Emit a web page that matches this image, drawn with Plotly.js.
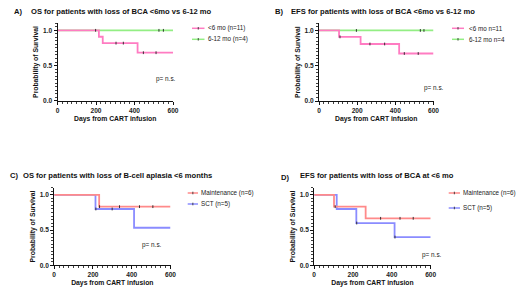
<!DOCTYPE html>
<html><head><meta charset="utf-8">
<script src="https://cdn.plot.ly/plotly-3.0.1.min.js"></script>
<style>html,body{margin:0;padding:0;background:#fff}#chart{width:520px;height:293px}</style>
</head><body><div id="chart"></div>
<script>
// ---------- data ----------
const panelTitles = [
  "OS for patients with loss of BCA <6mo vs 6-12 mo",
  "EFS for patients with loss of BCA <6mo vs 6-12 mo",
  "OS for patients with loss of B-cell aplasia <6 months",
  "EFS for patients with loss of BCA at <6 mo"
];
const panelLetters = ["A)", "B)", "C)", "D)"];
const xTickVals = [0, 200, 400, 600];
const yTickVals = [0, 0.5, 1.0];
const yTickText = ["0.0", "0.5", "1.0"];
const xAxisTitle = "Days from CART infusion";
const yAxisTitle = "Probability of Survival";
const pText = "p= n.s.";

// Panel A
const aNames = ["<6 mo (n=11)", "6-12 mo (n=4)"];
const aLt6Days = [0, 215, 235, 416, 600];
const aLt6Surv = [1, 0.909, 0.818, 0.682, 0.682];
const aLt6CensDays = [198, 304, 342, 446, 512];
const aLt6CensSurv = [1, 0.818, 0.818, 0.682, 0.682];
const a612Days = [0, 600];
const a612Surv = [1, 1];
const a612CensDays = [527, 550];
const a612CensSurv = [1, 1];

// Panel B
const bNames = ["<6 mo n=11", "6-12 mo n=4"];
const bLt6Days = [0, 105, 218, 420, 600];
const bLt6Surv = [1, 0.909, 0.808, 0.673, 0.673];
const bLt6CensDays = [110, 267, 344, 447, 520];
const bLt6CensSurv = [0.909, 0.808, 0.808, 0.673, 0.673];
const b612Days = [0, 600];
const b612Surv = [1, 1];
const b612CensDays = [196, 531, 550];
const b612CensSurv = [1, 1, 1];

// Panel C
const cNames = ["Maintenance (n=6)", "SCT (n=5)"];
const cMaintDays = [0, 232, 600];
const cMaintSurv = [1, 0.833, 0.833];
const cMaintCensDays = [234, 337, 440, 509];
const cMaintCensSurv = [0.833, 0.833, 0.833, 0.833];
const cSctDays = [0, 213, 412, 600];
const cSctSurv = [1, 0.8, 0.533, 0.533];
const cSctCensDays = [215, 299];
const cSctCensSurv = [0.8, 0.8];

// Panel D
const dNames = ["Maintenance (n=6)", "SCT (n=5)"];
const dMaintDays = [0, 102, 265, 600];
const dMaintSurv = [1, 0.833, 0.667, 0.667];
const dMaintCensDays = [108, 342, 442, 510];
const dMaintCensSurv = [0.833, 0.667, 0.667, 0.667];
const dSctDays = [0, 116, 217, 414, 600];
const dSctSurv = [1, 0.8, 0.6, 0.4, 0.4];
const dSctCensDays = [219, 416];
const dSctCensSurv = [0.6, 0.4];

// ---------- styling ----------
const W = 520, H = 293;
const FONT = "Arial, 'Liberation Sans', sans-serif";
const PINK = "#ff7cc2", GREEN = "#93ee84", RED = "#ff8a8a", BLUE = "#8a8cff";
const px = v => v / W;
const py = v => 1 - v / H;

function stepTrace(xs, ys, color, ax) {
  return {x: xs, y: ys, xaxis: 'x' + ax, yaxis: 'y' + ax, type: 'scatter', mode: 'lines',
    line: {shape: 'hv', color: color, width: 1.8}, showlegend: false, hoverinfo: 'skip'};
}
function censTrace(xs, ys, ax) {
  return {x: xs, y: ys, xaxis: 'x' + ax, yaxis: 'y' + ax, type: 'scatter', mode: 'markers',
    marker: {symbol: 'line-ns', size: 2, line: {color: '#222', width: 0.9}}, showlegend: false, hoverinfo: 'skip'};
}

const data = [
  stepTrace(a612Days, a612Surv, GREEN, ''), stepTrace(aLt6Days, aLt6Surv, PINK, ''),
  censTrace(a612CensDays, a612CensSurv, ''), censTrace(aLt6CensDays, aLt6CensSurv, ''),
  stepTrace(b612Days, b612Surv, GREEN, '2'), stepTrace(bLt6Days, bLt6Surv, PINK, '2'),
  censTrace(b612CensDays, b612CensSurv, '2'), censTrace(bLt6CensDays, bLt6CensSurv, '2'),
  stepTrace(cSctDays, cSctSurv, BLUE, '3'), stepTrace(cMaintDays, cMaintSurv, RED, '3'),
  censTrace(cSctCensDays, cSctCensSurv, '3'), censTrace(cMaintCensDays, cMaintCensSurv, '3'),
  stepTrace(dSctDays, dSctSurv, BLUE, '4'), stepTrace(dMaintDays, dMaintSurv, RED, '4'),
  censTrace(dSctCensDays, dSctCensSurv, '4'), censTrace(dMaintCensDays, dMaintCensSurv, '4')
];

// pixel geometry of each panel: [x0, x1, yZero, yTop(1.1)]
const geo = [
  [57.5, 173.0, 100.7, 23.3],
  [319.0, 433.5, 101.0, 23.4],
  [54.2, 170.5, 265.2, 187.9],
  [314.2, 430.7, 265.2, 187.9]
];

function xAxis(i) {
  const g = geo[i];
  return {domain: [px(g[0]), px(g[1])], range: [0, 600], anchor: 'y' + (i ? i + 1 : ''),
    showgrid: false, zeroline: false, showline: true, linecolor: '#111', linewidth: 1,
    ticks: 'outside', ticklen: 3, tickwidth: 1, tickcolor: '#111',
    tickvals: xTickVals, ticktext: xTickVals.map(String),
    tickfont: {family: FONT, size: 6.6, color: '#222', weight: 'bold'},
    minor: {dtick: 25, ticks: 'outside', ticklen: 1.8, tickwidth: 0.8, tickcolor: '#111', showgrid: false},
    title: {text: xAxisTitle, font: {family: FONT, size: 6.8, color: '#111', weight: 'bold'}, standoff: 3},
    fixedrange: true};
}
function yAxis(i) {
  const g = geo[i];
  return {domain: [py(g[2]), py(g[3])], range: [0, 1.1], anchor: 'x' + (i ? i + 1 : ''),
    showgrid: false, zeroline: false, showline: true, linecolor: '#111', linewidth: 1,
    ticks: 'outside', ticklen: 3, tickwidth: 1, tickcolor: '#111',
    tickvals: yTickVals, ticktext: yTickText,
    tickfont: {family: FONT, size: 6.6, color: '#222', weight: 'bold'},
    minor: {dtick: 0.05, ticks: 'outside', ticklen: 1.8, tickwidth: 0.8, tickcolor: '#111', showgrid: false},
    title: {text: yAxisTitle, font: {family: FONT, size: 6.8, color: '#111', weight: 'bold'}, standoff: 3},
    fixedrange: true};
}

// legends / titles placement (pixels)
const legendPos = [
  {x0: 192, x1: 204.5, tx: 206, ys: [28.3, 39.3], names: aNames, colors: [PINK, GREEN]},
  {x0: 452, x1: 464, tx: 466.7, ys: [28.3, 39.3], names: bNames, colors: [PINK, GREEN]},
  {x0: 187.7, x1: 198, tx: 199.3, ys: [193, 204], names: cNames, colors: [RED, BLUE]},
  {x0: 448.7, x1: 460, tx: 461.3, ys: [193, 208], names: dNames, colors: [RED, BLUE]}
];
const titlePos = [
  {lx: 12, tx: 29.3, y: 11.3, ly: 11.3},
  {lx: 272.7, tx: 289.3, y: 11.3, ly: 11.3},
  {lx: 8, tx: 20.7, y: 175.7, ly: 175.7},
  {lx: 278.7, tx: 298.3, y: 175.3, ly: 177.3}
];
const pPos = [[166, 79.3], [433.8, 88.3], [152.3, 245.3], [432, 254.7]];

const annotations = [], shapes = [];
for (let i = 0; i < 4; i++) {
  const t = titlePos[i];
  annotations.push({xref: 'paper', yref: 'paper', x: px(t.lx), y: py(t.ly), xanchor: 'left', yanchor: 'middle',
    text: panelLetters[i], showarrow: false, font: {family: FONT, size: 7.6, color: '#111', weight: 'bold'}});
  annotations.push({xref: 'paper', yref: 'paper', x: px(t.tx), y: py(t.y), xanchor: 'left', yanchor: 'middle',
    text: panelTitles[i], showarrow: false, font: {family: FONT, size: 7.6, color: '#111', weight: 'bold'}});
  annotations.push({xref: 'paper', yref: 'paper', x: px(pPos[i][0]), y: py(pPos[i][1]), xanchor: 'center', yanchor: 'middle',
    text: pText, showarrow: false, font: {family: FONT, size: 6.4, color: '#222'}});
  const L = legendPos[i];
  for (let k = 0; k < 2; k++) {
    const yy = py(L.ys[k]);
    shapes.push({type: 'line', xref: 'paper', yref: 'paper', x0: px(L.x0), x1: px(L.x1), y0: yy, y1: yy,
      line: {color: L.colors[k], width: 1.5}});
    const xm = (L.x0 + L.x1) / 2;
    shapes.push({type: 'line', xref: 'paper', yref: 'paper', x0: px(xm), x1: px(xm), y0: yy - 1.3 / H, y1: yy + 1.3 / H,
      line: {color: '#222', width: 0.8}});
    annotations.push({xref: 'paper', yref: 'paper', x: px(L.tx), y: yy, xanchor: 'left', yanchor: 'middle',
      text: L.names[k], showarrow: false, font: {family: FONT, size: 6.3, color: '#222'}});
  }
}

const layout = {
  width: W, height: H, margin: {l: 0, r: 0, t: 0, b: 0},
  paper_bgcolor: '#fff', plot_bgcolor: 'rgba(0,0,0,0)', showlegend: false,
  font: {family: FONT},
  annotations: annotations, shapes: shapes
};
for (let i = 0; i < 4; i++) {
  const s = i ? String(i + 1) : '';
  layout['xaxis' + s] = xAxis(i);
  layout['yaxis' + s] = yAxis(i);
}

Plotly.newPlot('chart', data, layout, {staticPlot: true, displayModeBar: false});
</script></body></html>
